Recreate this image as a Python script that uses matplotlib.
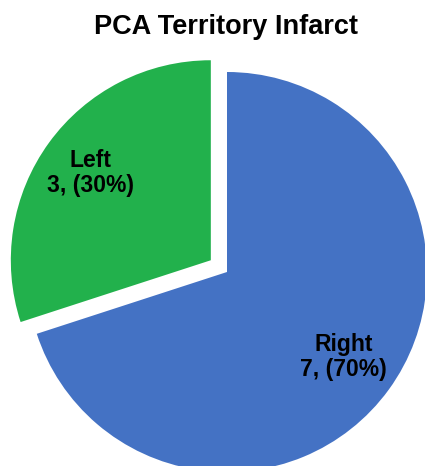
import matplotlib
matplotlib.use("Agg")
import matplotlib.pyplot as plt
import numpy as np

categories = ["Right", "Left"]
counts = [7, 3]
colors = ["#4472C4", "#22B14C"]
explode = [0.0, 0.1]
title = "PCA Territory Infarct"
label_dist = [0.72, 0.745]

plt.rcParams['font.family'] = ['Liberation Sans', 'DejaVu Sans']

fig = plt.figure(figsize=(4.25, 4.66), dpi=100)
ax = fig.add_axes([0, 0, 1, 1])

total = sum(counts)
labels = [f"{c}\n{v}, ({v / total * 100:.0f}%)" for c, v in zip(categories, counts)]

wedges, texts = ax.pie(counts, colors=colors, explode=explode, startangle=90,
                       counterclock=False, labels=labels, labeldistance=0.73,
                       radius=1.0,
                       textprops=dict(fontsize=16.5, fontweight='bold', color='black'))
for w, t, d in zip(wedges, texts, label_dist):
    ang = np.deg2rad((w.theta1 + w.theta2) / 2)
    cx, cy = w.center
    t.set_position((cx + d * w.r * np.cos(ang), cy + d * w.r * np.sin(ang)))
    t.set_horizontalalignment('center')
    t.set_verticalalignment('center')
    t.set_multialignment('center')
    t.set_linespacing(1.1)

ax.set_aspect('equal')
ax.set_xlim(-227 / 200, (425 - 227) / 200)
ax.set_ylim(-(466 - 272) / 200, 272 / 200)
ax.axis('off')

fig.text(226.5 / 425, 1 - 27 / 466, title, ha='center', va='center',
         fontsize=19.5, fontweight='bold')

fig.savefig("out.png", dpi=100)
